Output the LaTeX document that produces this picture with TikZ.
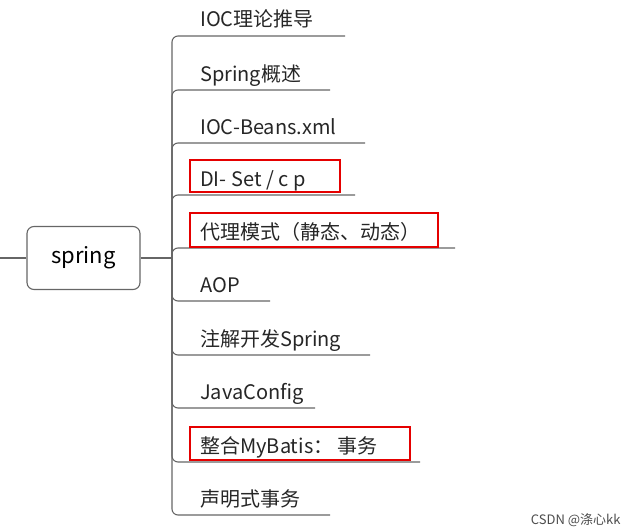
\documentclass[tikz,border=0pt]{standalone}
\usepackage{fontspec}
\setmainfont{Noto Sans CJK SC}
\begin{document}
\begin{tikzpicture}[x=1pt,y=-1pt,
  lbl/.style={anchor=base west,font=\fontsize{20}{23}\selectfont,text=black!85,inner sep=0pt},
  branch/.style={draw=black!60,line width=1.1pt,rounded corners=6pt},
  hl/.style={draw=red!90!black,line width=1.6pt}]
\useasboundingbox (0,0) rectangle (632,530);
\node[draw=black!60,line width=1.1pt,rounded corners=7pt,minimum width=113pt,minimum height=63pt,
  font=\fontsize{22}{25}\selectfont] (root) at (83.5,258) {spring};
\coordinate (L) at (0,258);
\draw[branch] (L) -- (root.west);
\coordinate (J) at (172,258);
\draw[branch] (root.east) -- (J);
\foreach \i/\t/\y/\e in {
 a/IOC理论推导/36/345, b/Spring概述/90/330, c/IOC-Beans.xml/143/365,
 d/{DI- Set / c p}/195/355, e/代理模式（静态、动态）/248/455, f/AOP/301/270,
 g/注解开发Spring/355/370, h/JavaConfig/408/315, i/整合MyBatis： 事务/462/420,
 j/声明式事务/515/330}{
  \node[lbl] (\i) at (200,\y-9) {\t};
  \coordinate (\i e) at (\e,\y);
  \draw[branch] (J) -- (172,\y) -- (\i e);
}
\draw[hl] (190,160) rectangle (340,192);
\draw[hl] (190,213) rectangle (438,247);
\draw[hl] (190,427) rectangle (410,460);
\node[anchor=east,font=\fontsize{13}{15}\selectfont,text=black!70] (wm) at (624,520) {CSDN @涤心kk};
\end{tikzpicture}
\end{document}
